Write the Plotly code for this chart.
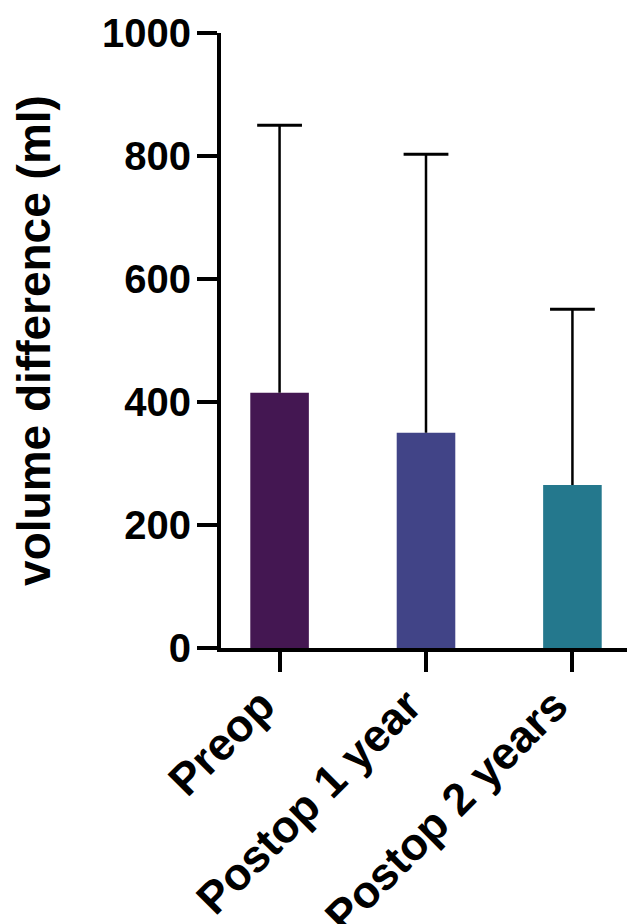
import plotly.graph_objects as go

categories = ["Preop", "Postop 1 year", "Postop 2 years"]
mean_values = [415, 350, 265]
upper_values = [850, 803, 551]
bar_colors = ["#441752", "#414487", "#24788d"]
y_ticks = [0, 200, 400, 600, 800, 1000]

err_down = [u - m for u, m in zip(upper_values, mean_values)]

FONT = "Liberation Sans, Arial, sans-serif"

fig = go.Figure()
fig.add_trace(go.Bar(
    x=categories,
    y=mean_values,
    marker=dict(color=bar_colors, line=dict(width=0)),
    width=0.4,
))
# error bars: cap at the upper value, whisker down to the mean (no lower cap)
fig.add_trace(go.Scatter(
    x=categories,
    y=upper_values,
    mode="markers",
    marker=dict(symbol="line-ew", size=32, line=dict(width=3, color="black"), color="black"),
    error_y=dict(type="data", symmetric=False, array=[0, 0, 0], arrayminus=err_down,
                 color="black", thickness=2.5, width=0),
    hoverinfo="skip",
))

fig.update_layout(
    width=635, height=924,
    margin=dict(l=213, r=12, t=25, b=284),
    paper_bgcolor="white", plot_bgcolor="white",
    showlegend=False,
    font=dict(family=FONT, color="black"),
)
fig.update_xaxes(
    range=[-0.4, 2.4], showline=True, linewidth=4, linecolor="black",
    ticks="outside", ticklen=20, tickwidth=4, tickcolor="black",
    tickangle=-45, tickfont=dict(size=45, family=FONT, weight="bold"),
    ticklabelshift=-18, ticklabelstandoff=-11,
    showgrid=False, zeroline=False, automargin=False,
)
fig.update_yaxes(
    range=[0, 1000], tickvals=y_ticks, showline=True, linewidth=4, linecolor="black",
    ticks="outside", ticklen=20, tickwidth=4, tickcolor="black",
    tickfont=dict(size=40, family=FONT, weight="bold"),
    ticklabelstandoff=-2,
    showgrid=False, zeroline=False, automargin=False,
    title=dict(text="volume difference (ml)", font=dict(size=46, family=FONT, weight="bold"), standoff=38),
)

fig.write_html("out.html")
